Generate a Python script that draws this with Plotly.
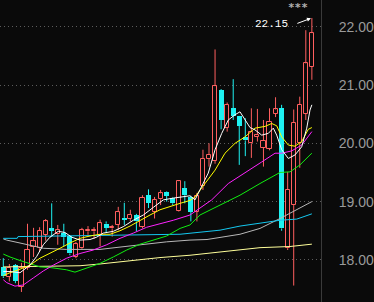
import plotly.graph_objects as go

# ---- candle data (oldest -> newest) ----
opens  = [17.87,17.71,17.91,17.54,17.86,18.22,18.20,18.43,18.54,18.44,18.46,18.41,18.05,18.20,18.49,18.49,18.43,18.62,18.54,18.60,
          18.72,18.70,18.77,18.57,19.11,18.83,19.04,19.17,19.07,18.84,19.23,19.08,18.83,19.26,19.73,19.70,20.91,20.27,20.60,20.46,
          20.10,20.00,20.11,19.92,19.91,20.51,20.60,18.20,18.94,20.00,20.51,21.31]
highs  = [18.03,17.93,17.93,17.95,18.62,18.55,18.56,18.70,18.97,18.60,18.62,18.42,18.31,18.55,18.58,18.56,18.69,18.66,18.60,18.91,
          18.98,18.86,18.79,19.11,19.21,19.08,19.20,19.18,19.08,19.37,19.35,19.10,19.15,19.89,20.00,21.61,20.93,20.70,21.10,20.47,
          20.43,20.60,20.59,20.40,20.60,20.79,20.66,19.51,20.58,20.80,21.94,22.15]
lows   = [17.69,17.63,17.60,17.45,17.83,18.05,18.14,18.33,18.40,18.26,18.23,18.08,18.03,18.18,18.43,18.36,18.23,18.47,18.40,18.51,
          18.60,18.66,18.49,18.54,18.89,18.71,18.94,19.00,18.94,18.83,18.97,18.66,18.66,19.20,19.60,19.65,20.24,20.20,20.40,19.63,
          19.78,19.75,20.03,19.60,19.88,20.45,18.50,18.17,17.56,19.58,20.40,21.09]
closes = [17.72,17.86,17.64,17.86,18.17,18.32,18.50,18.66,18.51,18.52,18.39,18.11,18.27,18.51,18.52,18.52,18.63,18.55,18.56,18.82,
          18.70,18.77,18.66,19.07,18.98,19.03,19.14,19.10,18.97,19.35,19.11,18.83,19.10,19.73,19.80,20.98,20.40,20.66,20.47,20.30,
          20.05,20.20,20.15,20.04,20.37,20.58,18.54,19.20,20.35,20.66,21.37,21.89]

# ---- moving-average lines: (candle index, value) ----
ma5_idx = [0,1.11,2.76,4.41,5.52,6.61,7.72,9.09,10.2,11.3,12.68,14.33,15.44,16.53,18.18,19.83,21.49,23.14,24.79,26.45,28.1,29.75,
           30.86,31.69,32.79,33.88,35.0,36.1,37.19,38.3,39.12,39.95,40.78,41.6,42.71,43.8,44.63,45.19,46.02,47.11,48.21,49.32,50.15,50.69,51]
ma5_val = [17.80,17.80,17.78,17.91,18.06,18.26,18.39,18.49,18.47,18.39,18.34,18.35,18.39,18.46,18.49,18.57,18.68,18.77,18.90,19.03,19.06,19.08,
           19.10,19.03,19.26,19.49,19.89,20.17,20.40,20.49,20.54,20.40,20.27,20.23,20.14,20.17,20.26,20.14,19.89,19.74,19.80,19.94,20.26,20.57,20.66]
ma10_idx = [0,1.11,2.76,4.41,6.07,7.72,9.37,11.02,12.68,14.33,15.98,17.64,19.29,20.94,22.6,24.25,25.9,27.55,29.21,30.86,31.69,33.34,35.0,
            36.64,38.3,39.95,41.6,43.26,44.36,45.19,46.02,47.11,48.21,49.32,50.41,51]
ma10_val = [17.73,17.78,17.84,17.91,18.03,18.11,18.20,18.29,18.37,18.41,18.44,18.44,18.50,18.58,18.68,18.77,18.86,18.92,18.97,19.02,19.08,19.31,19.54,
            19.83,20.00,20.11,20.26,20.29,20.34,20.30,20.11,19.97,19.95,20.03,20.24,20.27]
ma20_idx = [0,0.56,1.93,3.31,4.96,6.61,8.26,10.48,12.68,14.88,17.09,19.29,21.49,23.7,25.9,28.1,30.86,31.69,34.45,37.19,39.95,42.71,44.91,46.02,47.67,49.32,51]
ma20_val = [17.66,17.61,17.55,17.57,17.69,17.81,17.91,18.03,18.11,18.17,18.26,18.37,18.46,18.56,18.62,18.68,18.77,18.83,19.03,19.31,19.49,19.68,19.83,19.83,19.87,19.97,20.20]
ma30_idx = [0,1.11,2.76,4.41,6.07,7.72,10.48,11.85,13.79,15.98,18.18,20.4,22.6,24.79,27.0,29.21,30.86,32.51,35.82,39.12,42.43,45.74,47.39,49.04,50.69,51]
ma30_val = [18.10,18.05,17.99,17.93,17.88,17.87,17.83,17.79,17.86,17.94,18.05,18.17,18.27,18.34,18.41,18.54,18.60,18.77,18.94,19.11,19.31,19.50,19.51,19.63,19.80,19.83]
ma60_idx = [0,2.3,2.43,9.37,19.29,29.21,35.82,39.12,42.43,45.74,48.5,50.69,51]
ma60_val = [18.37,18.37,18.40,18.41,18.43,18.44,18.51,18.58,18.63,18.68,18.70,18.77,18.79]
ma90_idx = [0,0.56,2.76,5.52,6.61,10.48,15.98,19.29,22.6,27.0,30.86,33.67,39.12,42.43,45.74,50.69,51]
ma90_val = [18.36,18.34,18.29,18.22,18.20,18.18,18.18,18.22,18.26,18.31,18.34,18.35,18.44,18.54,18.71,18.99,19.00]
ma120_idx = [0,7.72,12.68,15.98,19.29,22.6,25.9,30.86,35.82,42.43,47.39,50.69,51]
ma120_val = [17.88,17.89,17.90,17.93,17.97,18.01,18.04,18.08,18.14,18.21,18.23,18.26,18.27]

y_ticks = [18, 19, 20, 21, 22]
high_label = "22.15"

BG = "#0a0a0a"
RED = "#ff5f5f"
CYAN = "#1ef2f2"

n = len(closes)
idx = list(range(n))
up = [i for i in idx if closes[i] >= opens[i]]
dn = [i for i in idx if closes[i] < opens[i]]

def wicks(ids):
    xs, ys = [], []
    for i in ids:
        top = max(opens[i], closes[i]); bot = min(opens[i], closes[i])
        xs += [i, i, None, i, i, None]
        ys += [highs[i], top, None, bot, lows[i], None]
    return xs, ys

fig = go.Figure()
for ids, col in ((up, RED), (dn, CYAN)):
    wx, wy = wicks(ids)
    fig.add_trace(go.Scatter(x=wx, y=wy, mode="lines", line=dict(color=col, width=1),
                             hoverinfo="skip", showlegend=False))

fig.add_trace(go.Bar(x=up, base=[opens[i] for i in up],
                     y=[max(closes[i] - opens[i], 0.015) for i in up],
                     width=0.68, marker=dict(color=BG, line=dict(color=RED, width=1)),
                     showlegend=False))
fig.add_trace(go.Bar(x=dn, base=[closes[i] for i in dn],
                     y=[max(opens[i] - closes[i], 0.02) for i in dn],
                     width=0.8, marker=dict(color=CYAN, line=dict(width=0)),
                     showlegend=False))

for xs, ys, col in ((ma120_idx, ma120_val, "#ffff9a"),
                    (ma90_idx, ma90_val, "#b8b8b8"),
                    (ma60_idx, ma60_val, "#14c8f0"),
                    (ma30_idx, ma30_val, "#10ee10"),
                    (ma20_idx, ma20_val, "#ff22ff"),
                    (ma10_idx, ma10_val, "#ffff00"),
                    (ma5_idx, ma5_val, "#ffffff")):
    fig.add_trace(go.Scatter(x=xs, y=ys, mode="lines", line=dict(color=col, width=1),
                             hoverinfo="skip", showlegend=False))

last = n - 1
fig.add_annotation(x=last, y=highs[last], xref="x", yref="y", text="",
                   showarrow=True, ax=-16, ay=6, arrowhead=2, arrowsize=0.8,
                   arrowwidth=1, arrowcolor="#ffffff", standoff=1)
fig.add_annotation(x=last, y=highs[last], xref="x", yref="y", text=high_label,
                   showarrow=False, xshift=-40, yshift=-6,
                   font=dict(family="Liberation Mono", size=11, color="#ffffff"))
fig.add_annotation(x=1, y=1, xref="paper", yref="paper", text="<b>***</b>",
                   showarrow=False, xanchor="right", yanchor="top", xshift=-11, yshift=1,
                   font=dict(family="DejaVu Sans Mono", size=11, color="#b0b0b0"))

fig.update_layout(
    width=374, height=302, margin=dict(l=0, r=53, t=0, b=0),
    paper_bgcolor=BG, plot_bgcolor=BG, barmode="overlay", bargap=0,
    xaxis=dict(range=[-0.545, 52.51], visible=False, fixedrange=True),
    yaxis=dict(range=[17.278, 22.458], side="right", tickvals=y_ticks,
               ticktext=[f"{v:.2f}" for v in y_ticks],
               tickfont=dict(family="Liberation Sans", size=14, color="#9a9a9a"),
               showgrid=True, gridcolor="#5c5c5c", gridwidth=1, griddash="1px,3px",
               zeroline=False, showline=True, linecolor="#3a3a3a", linewidth=1,
               ticks="", ticklabelstandoff=14),
)
fig.write_html("out.html")
